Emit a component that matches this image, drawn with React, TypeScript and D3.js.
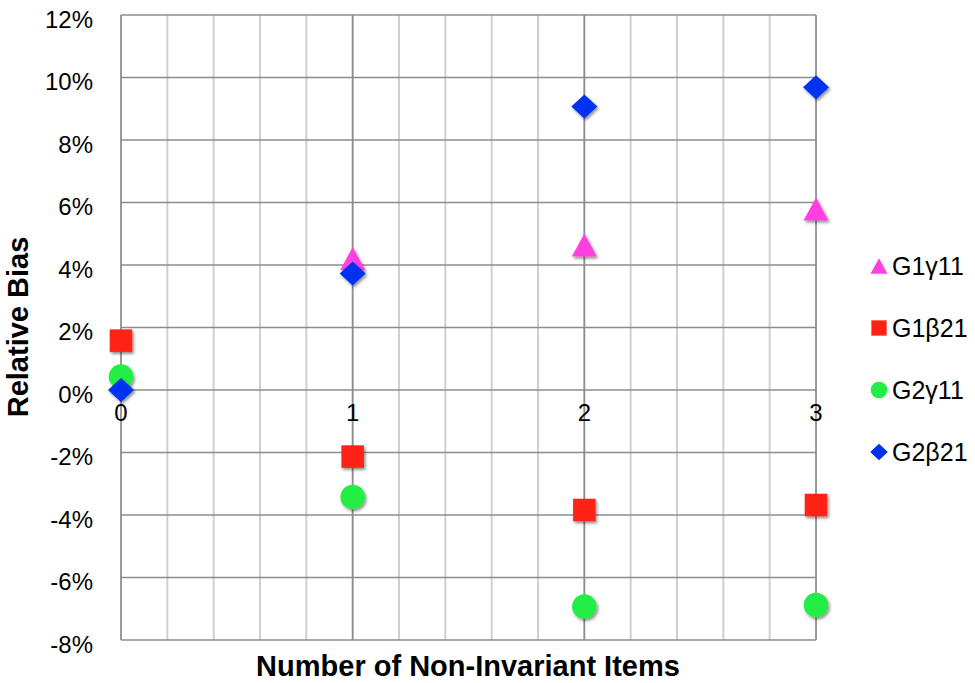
import React from "react";
import * as d3 from "d3";

const categories = [0, 1, 2, 3];
const yTicks = [-8, -6, -4, -2, 0, 2, 4, 6, 8, 10, 12];
const minorX = d3.range(0, 3.0001, 0.2);

const g1Gamma11: (number | null)[] = [null, 4.21, 4.64, 5.79];
const g1Beta21 = [1.58, -2.13, -3.84, -3.68];
const g2Gamma11 = [0.43, -3.42, -6.93, -6.88];
const g2Beta21 = [0.0, 3.73, 9.07, 9.69];

const seriesNames = ["G1γ11", "G1β21", "G2γ11", "G2β21"];
const seriesColors = ["#FF40E0", "#FF2212", "#22EE44", "#0033F0"];
const seriesShapes = ["triangle", "square", "circle", "diamond"];
const seriesValues = [g1Gamma11, g1Beta21, g2Gamma11, g2Beta21];

const W = 975;
const H = 683;

function Marker({ shape, x, y, color, size }: { shape: string; x: number; y: number; color: string; size: number }) {
  const s = size;
  if (shape === "triangle") {
    const h = s * 0.92;
    return <polygon points={`${x},${y - h / 2} ${x + s / 2},${y + h / 2} ${x - s / 2},${y + h / 2}`} fill={color} />;
  }
  if (shape === "square") {
    const a = s * 0.9;
    return <rect x={x - a / 2} y={y - a / 2} width={a} height={a} fill={color} />;
  }
  if (shape === "circle") {
    return <circle cx={x} cy={y} r={s * 0.49} fill={color} />;
  }
  const hw = s * 0.52;
  const hh = s * 0.48;
  return <polygon points={`${x},${y - hh} ${x + hw},${y} ${x},${y + hh} ${x - hw},${y}`} fill={color} />;
}

export default function App() {
  const x = d3.scaleLinear().domain([0, 3]).range([121, 816]);
  const y = d3.scaleLinear().domain([-8, 12]).range([640, 15]);
  const legendY = [266, 328, 390, 452];
  const font = "'Liberation Sans', Arial, sans-serif";

  return (
    <svg width={W} height={H} style={{ position: "absolute", left: 0, top: 0, background: "#fff" }}>
      <defs>
        <filter id="sh" x="-50%" y="-50%" width="200%" height="200%">
          <feDropShadow dx="1.5" dy="2" stdDeviation="1.5" floodColor="#000" floodOpacity="0.45" />
        </filter>
      </defs>
      {minorX.map((v, i) => (
        <line key={"mx" + i} x1={x(v)} x2={x(v)} y1={y(12)} y2={y(-8)} stroke="#cfcfcf" strokeWidth={2} />
      ))}
      {yTicks.map((t) => (
        <line key={"h" + t} x1={x(0)} x2={x(3)} y1={y(t)} y2={y(t)} stroke="#8c8c8c" strokeWidth={1.6} />
      ))}
      {categories.map((c) => (
        <line key={"v" + c} x1={x(c)} x2={x(c)} y1={y(12)} y2={y(-8)} stroke="#8c8c8c" strokeWidth={1.6} />
      ))}
      {yTicks.map((t) => (
        <text key={"yt" + t} x={93} y={y(t) + 12.5} textAnchor="end" fontFamily={font} fontSize={24} fill="#000">
          {String(t) + "%"}
        </text>
      ))}
      {categories.map((c) => (
        <text key={"xt" + c} x={x(c)} y={y(0) + 31} textAnchor="middle" fontFamily={font} fontSize={24} fill="#000">
          {c}
        </text>
      ))}
      {seriesValues.map((vals, si) => (
        <g key={"s" + si} filter="url(#sh)">
          {vals.map((v, i) =>
            v === null ? null : (
              <Marker key={i} shape={seriesShapes[si]} x={x(categories[i])} y={y(v)} color={seriesColors[si]} size={25} />
            )
          )}
        </g>
      ))}
      <text x={468} y={676} textAnchor="middle" fontFamily={font} fontWeight="bold" fontSize={29} fill="#000">
        Number of Non-Invariant Items
      </text>
      <text
        transform={`translate(28,327) rotate(-90)`}
        textAnchor="middle"
        fontFamily={font}
        fontWeight="bold"
        fontSize={29}
        fill="#000"
      >
        Relative Bias
      </text>
      {seriesNames.map((n, i) => (
        <g key={"lg" + i}>
          <Marker shape={seriesShapes[i]} x={879} y={legendY[i]} color={seriesColors[i]} size={17} />
          <text x={892} y={legendY[i] + 9} fontFamily={font} fontSize={25} fill="#000">
            {n}
          </text>
        </g>
      ))}
    </svg>
  );
}
